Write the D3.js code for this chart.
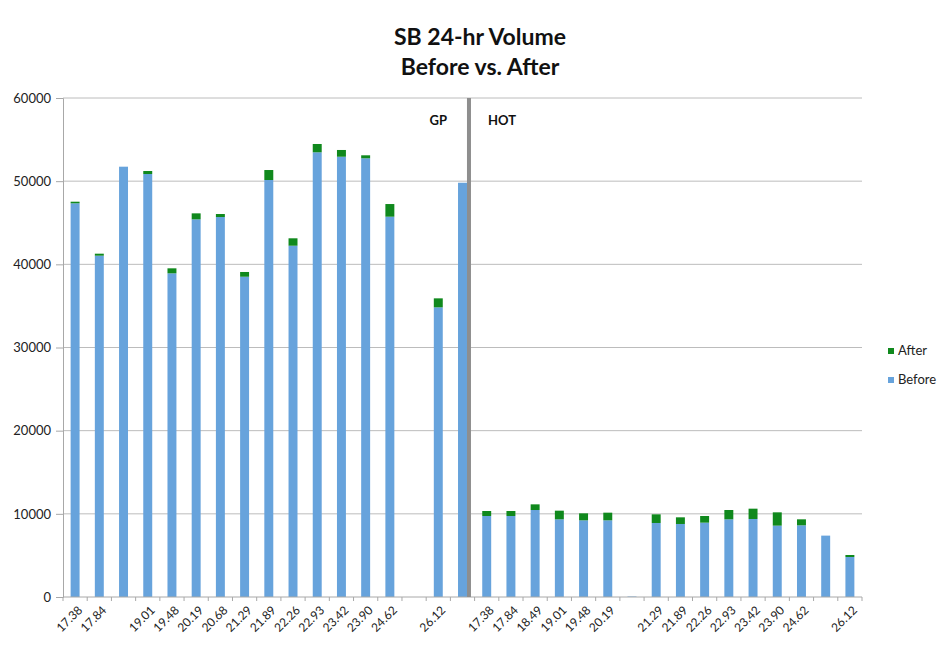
<!DOCTYPE html>
<html>
<head>
<meta charset="utf-8">
<script src="https://cdn.jsdelivr.net/npm/d3@7"></script>
<style>
  body { margin: 0; background: #fff; }
  svg text { font-family: Lato, "Open Sans", sans-serif; }
</style>
</head>
<body>
<div id="chart"></div>
<script>
// SB 24-hr volume, before vs. after (GP lanes, then HOT lanes)
const labels = [
  '17.38', '17.84', '', '19.01', '19.48', '20.19', '20.68', '21.29', '21.89',
  '22.26', '22.93', '23.42', '23.90', '24.62', '', '26.12', '',
  '17.38', '17.84', '18.49', '19.01', '19.48', '20.19', '', '21.29', '21.89',
  '22.26', '22.93', '23.42', '23.90', '24.62', '', '26.12'
];
const beforeVals = [
  47340, 41040, 51740, 50860, 38920, 45410, 45690, 38510, 50140,
  42240, 53470, 52940, 52750, 45730, 0, 34830, 49810,
  9740, 9740, 10460, 9340, 9220, 9220, 60, 8900, 8780,
  8940, 9340, 9380, 8580, 8620, 7380, 4810
];
const afterVals = [
  190, 240, 0, 360, 600, 720, 360, 570, 1200,
  890, 1000, 810, 360, 1520, 0, 1080, 0,
  600, 600, 680, 1040, 840, 920, 0, 1040, 800,
  800, 1120, 1240, 1600, 720, 0, 240
];
const yTicks = [0, 10000, 20000, 30000, 40000, 50000, 60000];
const seriesNames = ['After', 'Before'];
const gpCount = 17; // first 17 categories are GP

const width = 948, height = 648;
const margin = { top: 98, right: 86, bottom: 51, left: 63 };
const colors = { Before: '#67a3dc', After: '#10891d' };

const svg = d3.select('#chart').append('svg')
  .attr('width', width)
  .attr('height', height);

const x = d3.scaleBand()
  .domain(d3.range(labels.length))
  .range([margin.left, width - margin.right])
  .paddingInner(0.63)
  .paddingOuter(0.315);

const y = d3.scaleLinear()
  .domain([0, 60000])
  .range([height - margin.bottom, margin.top]);

// Title
svg.append('text')
  .attr('x', 480).attr('y', 45)
  .attr('text-anchor', 'middle')
  .style('font-size', '23px').style('font-weight', 'bold').style('fill', '#111')
  .text('SB 24-hr Volume');
svg.append('text')
  .attr('x', 480).attr('y', 75)
  .attr('text-anchor', 'middle')
  .style('font-size', '23px').style('font-weight', 'bold').style('fill', '#111')
  .text('Before vs. After');

// Gridlines
svg.append('g')
  .selectAll('line')
  .data(yTicks.filter(d => d > 0))
  .join('line')
  .attr('x1', margin.left).attr('x2', width - margin.right)
  .attr('y1', d => y(d)).attr('y2', d => y(d))
  .attr('stroke', '#bcbcbc').attr('stroke-width', 1);

// Y axis
const yAxis = svg.append('g')
  .attr('transform', `translate(${margin.left},0)`)
  .call(d3.axisLeft(y).tickValues(yTicks).tickFormat(d3.format('d')).tickSize(7).tickPadding(5));
yAxis.select('.domain').attr('stroke', '#a8a8a8');
yAxis.selectAll('.tick line').attr('stroke', '#a8a8a8');
yAxis.selectAll('text').style('font-size', '13px').style('fill', '#222');

// Stacked bars
const stackData = labels.map((l, i) => ({ i, Before: beforeVals[i], After: afterVals[i] }));
const stacked = d3.stack().keys(['Before', 'After'])(stackData);

svg.append('g')
  .selectAll('g')
  .data(stacked)
  .join('g')
  .attr('fill', s => colors[s.key])
  .selectAll('rect')
  .data(s => s)
  .join('rect')
  .attr('x', d => x(d.data.i))
  .attr('width', x.bandwidth())
  .attr('y', d => y(d[1]))
  .attr('height', d => y(d[0]) - y(d[1]));

// X axis line and ticks between categories
const y0 = y(0);
svg.append('line')
  .attr('x1', margin.left).attr('x2', width - margin.right)
  .attr('y1', y0).attr('y2', y0)
  .attr('stroke', '#a8a8a8');
const bounds = d3.range(labels.length + 1).map(k => margin.left + k * x.step());
svg.append('g')
  .selectAll('line')
  .data(bounds)
  .join('line')
  .attr('x1', d => d).attr('x2', d => d)
  .attr('y1', y0).attr('y2', y0 + 4)
  .attr('stroke', '#a8a8a8');

// X labels, rotated
svg.append('g')
  .selectAll('text')
  .data(labels.map((l, i) => ({ l, i })).filter(d => d.l))
  .join('text')
  .attr('transform', d => `translate(${x(d.i) + x.bandwidth() / 2 + 5},${y0 + 11}) rotate(-45)`)
  .attr('text-anchor', 'end')
  .attr('dy', '0.35em')
  .style('font-size', '12px').style('fill', '#222')
  .text(d => d.l);

// GP / HOT separator
const sepX = x(gpCount - 1) + x.bandwidth() + 2;
svg.append('line')
  .attr('x1', sepX).attr('x2', sepX)
  .attr('y1', y(60000)).attr('y2', y0)
  .attr('stroke', '#8e8e8e').attr('stroke-width', 4);

svg.append('text')
  .attr('x', sepX - 22).attr('y', 125)
  .attr('text-anchor', 'end')
  .style('font-size', '13px').style('font-weight', 'bold').style('fill', '#111')
  .text('GP');
svg.append('text')
  .attr('x', sepX + 19).attr('y', 125)
  .style('font-size', '13px').style('font-weight', 'bold').style('fill', '#111')
  .text('HOT');

// Legend
const legend = svg.append('g')
  .attr('transform', 'translate(888,348)')
  .selectAll('g')
  .data(seriesNames)
  .join('g')
  .attr('transform', (d, i) => `translate(0,${i * 29})`);
legend.append('rect')
  .attr('width', 6).attr('height', 6)
  .attr('fill', d => colors[d]);
legend.append('text')
  .attr('x', 10).attr('y', 7)
  .style('font-size', '13px').style('fill', '#222')
  .text(d => d);
</script>
</body>
</html>
